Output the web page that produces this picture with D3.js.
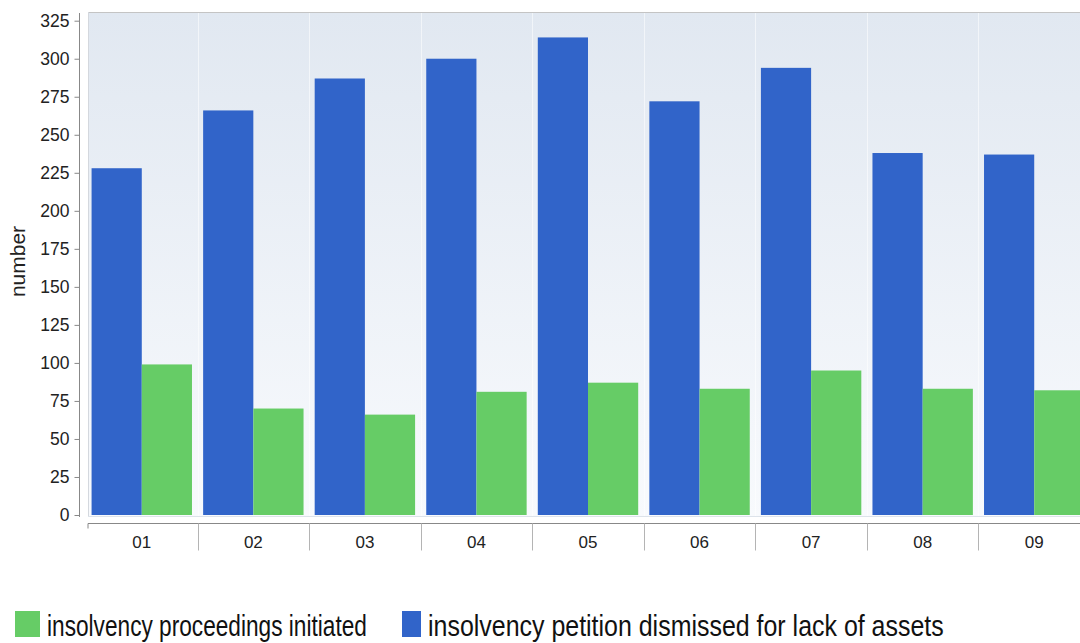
<!DOCTYPE html>
<html>
<head>
<meta charset="utf-8">
<script src="https://cdn.jsdelivr.net/npm/d3@7"></script>
<style>
  html, body { margin: 0; padding: 0; background: #ffffff; }
  svg { display: block; }
  .tick text { font-family: "Liberation Sans", Arial, sans-serif; fill: #222; }
</style>
</head>
<body>
<svg id="chart" width="1080" height="643"></svg>
<script>
// Years shown on the category axis
const categories = ["01", "02", "03", "04", "05", "06", "07", "08", "09"];
// Insolvency petitions dismissed for lack of assets
const dismissed = [228, 266, 287, 300, 314, 272, 294, 238, 237];
// Insolvency proceedings initiated
const initiated = [99, 70, 66, 81, 87, 83, 95, 83, 82];
// Value axis tick labels
const yTicks = [0, 25, 50, 75, 100, 125, 150, 175, 200, 225, 250, 275, 300, 325];

const seriesKeys = ["dismissed", "initiated"];
const seriesNames = {
  initiated: "insolvency proceedings initiated",
  dismissed: "insolvency petition dismissed for lack of assets"
};
const colors = { dismissed: "#3164c9", initiated: "#66cc66" };

const rows = categories.map((c, i) => ({ cat: c, dismissed: dismissed[i], initiated: initiated[i] }));

const svg = d3.select("#chart");

const plot = { left: 88, top: 12, right: 1092, bottom: 517 };

const x = d3.scaleBand().domain(categories).range([86, 1090]).paddingInner(0.1).paddingOuter(0.05);
const xs = d3.scaleBand().domain(seriesKeys).range([0, x.bandwidth()]).padding(0);
const y = d3.scaleLinear().domain([0, 325]).range([515, 20.7]);

// plot background gradient
const defs = svg.append("defs");
const grad = defs.append("linearGradient").attr("id", "bg").attr("x1", 0).attr("y1", 0).attr("x2", 0).attr("y2", 1);
grad.append("stop").attr("offset", "0%").attr("stop-color", "#e1e8f1");
grad.append("stop").attr("offset", "100%").attr("stop-color", "#f8fafd");

svg.append("rect")
  .attr("x", plot.left).attr("y", plot.top)
  .attr("width", plot.right - plot.left).attr("height", plot.bottom - plot.top)
  .attr("fill", "url(#bg)");

// plot outline
svg.append("line").attr("x1", plot.left).attr("x2", plot.right).attr("y1", plot.top + 0.5).attr("y2", plot.top + 0.5)
  .attr("stroke", "#c4c4c4").attr("stroke-width", 1);
svg.append("line").attr("x1", plot.left + 0.5).attr("x2", plot.left + 0.5).attr("y1", plot.top).attr("y2", plot.bottom)
  .attr("stroke", "#d4d8de").attr("stroke-width", 1);
svg.append("line").attr("x1", plot.left).attr("x2", plot.right).attr("y1", plot.bottom - 0.5).attr("y2", plot.bottom - 0.5)
  .attr("stroke", "#dde3ea").attr("stroke-width", 1);

// faint vertical gridlines between categories
const gap = x.step() * x.paddingInner();
const boundaries = categories.slice(0, -1).map(c => x(c) + x.bandwidth() + gap / 2);
svg.append("g").selectAll("line").data(boundaries).join("line")
  .attr("x1", d => Math.round(d) + 0.5).attr("x2", d => Math.round(d) + 0.5)
  .attr("y1", plot.top + 1).attr("y2", plot.bottom - 1)
  .attr("stroke", "#ffffff").attr("stroke-opacity", 0.55).attr("stroke-width", 1);

// bars
const groups = svg.append("g").selectAll("g").data(rows).join("g")
  .attr("transform", d => `translate(${x(d.cat)},0)`);
groups.selectAll("rect")
  .data(d => seriesKeys.map(k => ({ key: k, value: d[k] })))
  .join("rect")
  .attr("x", d => xs(d.key))
  .attr("width", xs.bandwidth())
  .attr("y", d => y(d.value))
  .attr("height", d => y(0) - y(d.value))
  .attr("fill", d => colors[d.key]);

// value axis
const yAxis = svg.append("g")
  .attr("transform", "translate(79.5,0)")
  .call(d3.axisLeft(y).tickValues(yTicks).tickSize(5).tickPadding(5).tickSizeOuter(0));
yAxis.select(".domain").attr("stroke", "#888").attr("d", "M0,13V517");
yAxis.selectAll(".tick line").attr("stroke", "#888");
yAxis.selectAll(".tick text").style("font-size", "17.5px");

// category axis
const xAxis = svg.append("g")
  .attr("transform", "translate(0,523.5)")
  .call(d3.axisBottom(x).tickSize(0).tickPadding(12));
xAxis.select(".domain").attr("stroke", "#888").attr("d", `M${plot.left},5V0H${plot.right}`);
xAxis.selectAll(".tick text").style("font-size", "17px");
xAxis.append("g").selectAll("line").data(boundaries).join("line")
  .attr("x1", d => Math.round(d) + 0.5).attr("x2", d => Math.round(d) + 0.5)
  .attr("y1", 0).attr("y2", 27)
  .attr("stroke", "#b4b4b4").attr("stroke-width", 1);

// value axis title
svg.append("text")
  .attr("transform", "translate(25,261.5) rotate(-90)")
  .attr("text-anchor", "middle")
  .style("font-family", "'Liberation Sans', Arial, sans-serif")
  .style("font-size", "21px")
  .style("fill", "#222")
  .text("number");

// legend: tall, narrow lettering, squeezed horizontally to its slot
const legendItems = [
  { key: "initiated", sx: 15, sw: 25, tx: 47, tw: 320 },
  { key: "dismissed", sx: 402, sw: 19, tx: 428, tw: 516 }
];
const legend = svg.append("g");
legendItems.forEach(it => {
  legend.append("rect")
    .attr("x", it.sx).attr("y", 611).attr("width", it.sw).attr("height", 26)
    .attr("fill", colors[it.key]);
  const g = legend.append("g");
  const t = g.append("text")
    .attr("x", 0).attr("y", 0)
    .style("font-family", "'Liberation Sans', Arial, sans-serif")
    .style("font-size", "30px")
    .style("fill", "#111")
    .text(seriesNames[it.key]);
  const w = t.node().getComputedTextLength();
  g.attr("transform", `translate(${it.tx},636) scale(${it.tw / w},1)`);
});
</script>
</body>
</html>
